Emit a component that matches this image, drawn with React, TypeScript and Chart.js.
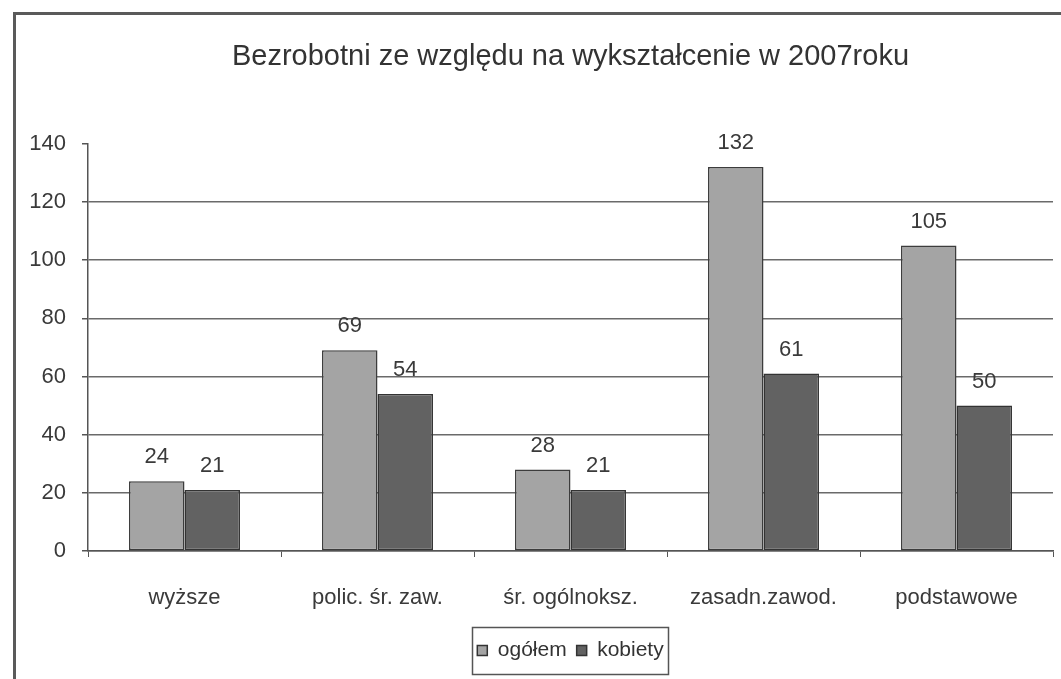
import React, { useEffect, useRef } from "react";
import { Chart, registerables } from "chart.js";

Chart.register(...registerables);

const chartTitle = "Bezrobotni ze względu na wykształcenie w 2007roku";
const categories = ["wyższe", "polic. śr. zaw.", "śr. ogólnoksz.", "zasadn.zawod.", "podstawowe"];
const seriesNames = ["ogółem", "kobiety"];
const ogolem = [24, 69, 28, 132, 105];
const kobiety = [21, 54, 21, 61, 50];
const yTickValues = [0, 20, 40, 60, 80, 100, 120, 140];

const FONT = "'Liberation Sans', Arial, sans-serif";

const framePlugin = {
  id: "frame",
  beforeDraw(chart: any) {
    const ctx = chart.ctx;
    ctx.save();
    ctx.fillStyle = "#ffffff";
    ctx.fillRect(0, 0, chart.width, chart.height);
    ctx.strokeStyle = "#5a5a5a";
    ctx.lineWidth = 3;
    ctx.beginPath();
    ctx.moveTo(14.5, chart.height);
    ctx.lineTo(14.5, 13.5);
    ctx.lineTo(chart.width, 13.5);
    ctx.stroke();
    ctx.restore();
  },
};

const valueLabelPlugin = {
  id: "valueLabels",
  afterDatasetsDraw(chart: any) {
    const ctx = chart.ctx;
    ctx.save();
    ctx.font = `22px ${FONT}`;
    ctx.fillStyle = "#3a3a3a";
    ctx.textAlign = "center";
    ctx.textBaseline = "alphabetic";
    chart.data.datasets.forEach((ds: any, di: number) => {
      const meta = chart.getDatasetMeta(di);
      meta.data.forEach((el: any, i: number) => {
        ctx.fillText(String(ds.data[i]), el.x, el.y - 18);
      });
    });
    ctx.restore();
  },
};

const legendBoxPlugin = {
  id: "legendBox",
  afterDraw(chart: any) {
    const lg = chart.legend;
    if (!lg || !lg.legendHitBoxes || !lg.legendHitBoxes.length) return;
    let minX = Infinity, maxX = -Infinity, minY = Infinity, maxY = -Infinity;
    lg.legendHitBoxes.forEach((b: any) => {
      minX = Math.min(minX, b.left);
      maxX = Math.max(maxX, b.left + b.width);
      minY = Math.min(minY, b.top);
      maxY = Math.max(maxY, b.top + b.height);
    });
    const ctx = chart.ctx;
    ctx.save();
    ctx.strokeStyle = "#555555";
    ctx.lineWidth = 1.5;
    ctx.strokeRect(
      Math.round(minX - 5) + 0.5,
      Math.round(minY - 13) + 0.5,
      Math.round(maxX - minX + 10),
      Math.round(maxY - minY + 26)
    );
    ctx.restore();
  },
};

export default function App() {
  const canvasRef = useRef<HTMLCanvasElement | null>(null);

  useEffect(() => {
    document.body.style.margin = "0";
    const canvas = canvasRef.current;
    if (!canvas) return;
    const chart = new Chart(canvas, {
      type: "bar",
      data: {
        labels: categories,
        datasets: [
          {
            label: seriesNames[0],
            data: ogolem,
            backgroundColor: "#a4a4a4",
            borderColor: "#3c3c3c",
            borderWidth: 1.5,
            borderSkipped: false,
            categoryPercentage: 0.575,
            barPercentage: 1,
          },
          {
            label: seriesNames[1],
            data: kobiety,
            backgroundColor: "#626262",
            borderColor: "#333333",
            borderWidth: 1.5,
            borderSkipped: false,
            categoryPercentage: 0.575,
            barPercentage: 1,
          },
        ],
      },
      options: {
        responsive: false,
        animation: false,
        maintainAspectRatio: false,
        layout: { padding: { left: 0, right: 8, top: 0, bottom: 8 } },
        plugins: {
          title: {
            display: true,
            fullSize: false,
            text: chartTitle,
            color: "#333333",
            font: { family: FONT, size: 29, weight: "normal" },
            padding: { top: 40, bottom: 69 },
          },
          legend: {
            display: true,
            position: "bottom",
            fullSize: false,
            labels: {
              color: "#333333",
              font: { family: FONT, size: 21 },
              boxWidth: 10,
              boxHeight: 10,
              padding: 10,
              generateLabels: (c: any) =>
                c.data.datasets.map((ds: any, i: number) => ({
                  text: ds.label,
                  fillStyle: ds.backgroundColor,
                  strokeStyle: "#333333",
                  lineWidth: 1.5,
                  fontColor: "#333333",
                  datasetIndex: i,
                  hidden: false,
                })),
            },
          },
          tooltip: { enabled: false },
        },
        scales: {
          x: {
            offset: true,
            grid: {
              display: true,
              drawOnChartArea: false,
              offset: true,
              color: "#555555",
              tickLength: 6,
            },
            border: { display: true, color: "#555555", width: 1.5 },
            ticks: {
              color: "#3a3a3a",
              font: { family: FONT, size: 22 },
              padding: 28,
              maxRotation: 0,
              autoSkip: false,
            },
            afterFit: (scale: any) => {
              scale.height = 79;
            },
          },
          y: {
            min: 0,
            max: 140,
            afterBuildTicks: (scale: any) => {
              scale.ticks = yTickValues.map((v) => ({ value: v }));
            },
            grid: {
              color: (ctx: any) => (ctx.tick && ctx.tick.value === 140 ? "rgba(0,0,0,0)" : "#6a6a6a"),
              tickColor: "#555555",
              tickLength: 6,
              lineWidth: 1.5,
            },
            border: { display: true, color: "#555555", width: 1.5 },
            ticks: {
              color: "#3a3a3a",
              font: { family: FONT, size: 22 },
              padding: 16,
            },
            afterFit: (scale: any) => {
              scale.width = 88;
            },
          },
        },
      },
      plugins: [framePlugin, valueLabelPlugin, legendBoxPlugin],
    } as any);
    return () => chart.destroy();
  }, []);

  return (
    <div style={{ position: "absolute", left: 0, top: 0, width: 1061, height: 679 }}>
      <canvas ref={canvasRef} width={1061} height={679} style={{ display: "block" }} />
    </div>
  );
}
